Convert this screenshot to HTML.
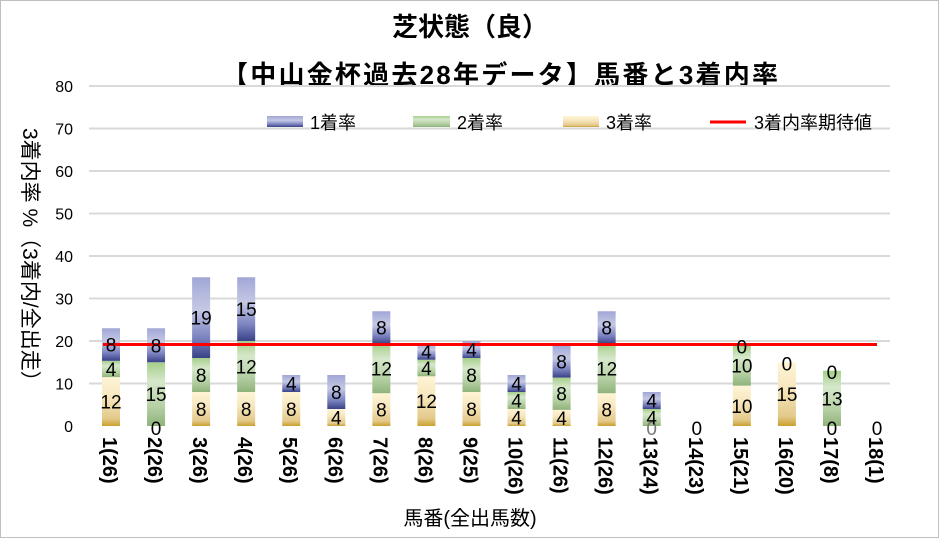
<!DOCTYPE html>
<html><head><meta charset="utf-8"><style>
body{margin:0;background:#fff;}
svg text{font-family:"Liberation Sans","Noto Sans CJK JP",sans-serif;}
</style></head><body>
<svg id="c" width="940" height="539" xmlns="http://www.w3.org/2000/svg">
<defs>
<linearGradient id="gG" x1="0" y1="1" x2="0" y2="0"><stop offset="0" stop-color="#C9A02E"/><stop offset="0.15" stop-color="#E3C98A"/><stop offset="0.6" stop-color="#F6E7BE"/><stop offset="1" stop-color="#FFF4D6"/></linearGradient>
<linearGradient id="gN" x1="0" y1="1" x2="0" y2="0"><stop offset="0" stop-color="#8FB27A"/><stop offset="0.3" stop-color="#B5D0A4"/><stop offset="0.7" stop-color="#D6E8CB"/><stop offset="1" stop-color="#A6CE8A"/></linearGradient>
<linearGradient id="gB" x1="0" y1="1" x2="0" y2="0"><stop offset="0" stop-color="#3A4288"/><stop offset="0.25" stop-color="#7A82C0"/><stop offset="0.6" stop-color="#C5C8E4"/><stop offset="1" stop-color="#A0A7D6"/></linearGradient>
</defs>
<rect x="0.5" y="0.5" width="938" height="537" fill="#fff" stroke="#BFBFBF"/>
<text x="470" y="36" font-size="26" font-weight="bold" text-anchor="middle">芝状態（良）</text>
<text x="222" y="84" font-size="26" font-weight="bold" textLength="556" lengthAdjust="spacing">【中山金杯過去28年データ】馬番と3着内率</text>
<g id="grid"></g>
<g id="bars"></g>
<line x1="103" y1="344.5" x2="877" y2="344.5" stroke="#FF0000" stroke-width="3"/>
<g id="lbl"></g>
<rect x="267" y="116" width="36" height="11" fill="url(#gB)"/><text x="310" y="129" font-size="18">1着率</text>
<rect x="413" y="116" width="37" height="11" fill="url(#gN)"/><text x="457" y="129" font-size="18">2着率</text>
<rect x="563" y="116" width="36" height="11" fill="url(#gG)"/><text x="606" y="129" font-size="18">3着率</text>
<line x1="710" y1="122" x2="746" y2="122" stroke="#FF0000" stroke-width="3"/><text x="754" y="129" font-size="18">3着内率期待値</text>
<text transform="translate(23,128) rotate(90)" font-size="21">3着内率 %（3着内/全出走）</text>
<text x="470" y="525" font-size="20" text-anchor="middle">馬番(全出馬数)</text>
</svg>
<script>
var s=4.25,y0=426,ns="http://www.w3.org/2000/svg";
function el(p,t,a,tx){var e=document.createElementNS(ns,t);for(var k in a)e.setAttribute(k,a[k]);if(tx!==undefined)e.textContent=tx;document.getElementById(p).appendChild(e);}
for(var v=0;v<=80;v+=10){var y=y0-v*s;if(v>0)el('grid','line',{x1:89,x2:890,y1:y,y2:y,stroke:'#D9D9D9','stroke-width':2});el('grid','text',{x:73,y:y+6,'font-size':16,'text-anchor':'end'},v);}
var D=[[12,4,8,23],[0,15,8,23],[8,8,19,35],[8,12,15,35],[8,0,4,12],[4,0,8,12],[8,12,8,27],[12,4,4,19.5],[8,8,4,20],[4,4,4,12],[4,8,8,19],[8,12,8,27],[0,4,4,8],[0,0,0,0],[10,10,0,19],[15,0,0,15],[0,13,0,13],[0,0,0,0]];
var N=["1(26)","2(26)","3(26)","4(26)","5(26)","6(26)","7(26)","8(26)","9(25)","10(26)","11(26)","12(26)","13(24)","14(23)","15(21)","16(20)","17(8)","18(1)"];
for(var i=0;i<18;i++){var cx=111+i*45.06,d=D[i],sum=d[0]+d[1]+d[2],f=sum?d[3]/sum:0;var b=y0,g=['gG','gN','gB'];var mids=[];
for(var j=0;j<3;j++){var h=d[j]*f*s;if(h>0)el('bars','rect',{x:cx-9,y:b-h,width:18,height:h,fill:'url(#'+g[j]+')'});mids.push(b-h/2);b-=h;}
for(var j=0;j<3;j++){var y=mids[j];if(d[j]==0){if(j==0)y=y0+2;else if(j==2&&sum>0)y=b+1;else continue;if(sum==0&&j>0)continue;}
el('lbl','text',{x:cx,y:y+7,'font-size':19,'text-anchor':'middle',fill:d[j]==0&&sum>0&&j==0&&i!=1&&i!=16?'#777':'#000'},d[j]);}
el('lbl','text',{transform:'translate('+(cx-8)+',437) rotate(90)','font-size':20,'font-weight':'bold'},N[i]);}
</script>
</body></html>
